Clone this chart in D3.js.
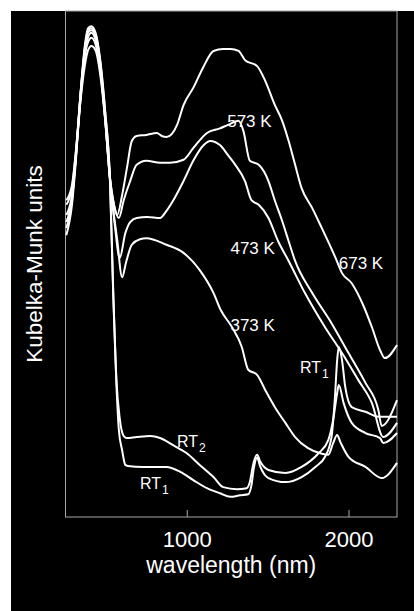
<!DOCTYPE html>
<html>
<head>
<meta charset="utf-8">
<script src="https://cdn.jsdelivr.net/npm/d3@7"></script>
<style>
  body { margin: 0; background: #fff; }
  text { font-family: "Liberation Sans", Arial, sans-serif; fill: #fff; }
</style>
</head>
<body>
<figure id="spectra" style="margin:0"></figure>
<script>
// Kubelka-Munk spectra, [wavelength nm, KM (arbitrary units)]
const rt1 = [[255,55.7],[290,61.7],[315,70.8],[340,82.4],[370,93.3],[390,96.6],[410,97.0],[435,95.8],[465,90.3],[495,80.4],[525,66.6],[545,43.9],[565,26.1],[580,17.2],[600,13.2],[620,10.3],[635,10.1],[730,9.9],[875,9.9],[960,8.9],[1040,7.3],[1125,5.7],[1205,4.7],[1270,4.0],[1330,4.3],[1380,4.5],[1400,6.3],[1415,9.7],[1435,11.7],[1455,9.9],[1505,7.7],[1610,6.9],[1710,7.9],[1795,9.9],[1855,11.9],[1895,15.8],[1915,23.1],[1930,31.0],[1940,33.6],[1960,31.0],[1980,25.7],[2020,21.7],[2105,20.8],[2185,19.8],[2300,19.8]];
const rt2 = [[255,57.1],[290,62.6],[315,71.5],[340,82.4],[370,92.7],[390,96.2],[410,96.6],[435,95.5],[465,89.9],[495,80.0],[525,66.6],[545,44.9],[565,27.1],[585,19.6],[610,16.0],[630,15.6],[690,15.8],[775,16.0],[835,15.6],[915,14.2],[1000,12.6],[1080,10.3],[1165,7.9],[1225,5.9],[1310,5.5],[1370,5.7],[1390,6.9],[1410,10.3],[1435,12.3],[1455,10.9],[1505,9.3],[1610,8.7],[1710,9.9],[1815,12.6],[1875,15.2],[1905,19.2],[1930,24.5],[1940,26.1],[1970,22.5],[2020,18.6],[2105,16.6],[2195,15.6],[2215,14.6],[2300,16.6]];
const k373 = [[255,58.3],[290,63.0],[315,71.5],[340,82.4],[370,92.3],[390,95.8],[410,96.2],[435,95.1],[465,89.3],[495,78.9],[525,66.6],[570,54.7],[600,47.4],[625,50.4],[660,53.8],[710,54.9],[750,55.1],[875,53.8],[980,52.2],[1080,48.8],[1165,44.3],[1210,40.9],[1280,37.5],[1340,33.6],[1380,29.1],[1435,28.1],[1485,25.1],[1545,21.7],[1610,18.6],[1670,15.8],[1750,13.6],[1835,12.5],[1875,12.3],[1905,14.6],[1930,16.2],[1950,14.8],[2000,11.9],[2105,9.9],[2205,7.7],[2300,10.7]];
const k473 = [[255,59.7],[290,63.6],[315,71.5],[340,81.4],[370,91.3],[390,94.9],[410,95.7],[435,94.3],[465,88.7],[495,78.9],[525,67.0],[555,57.7],[585,51.2],[620,56.1],[650,58.3],[690,59.1],[755,59.3],[835,59.1],[870,60.3],[915,62.5],[980,66.4],[1040,70.4],[1105,73.5],[1145,74.3],[1205,73.5],[1255,71.5],[1300,69.6],[1360,66.4],[1400,62.6],[1445,61.7],[1505,59.1],[1565,54.5],[1630,50.6],[1730,44.3],[1855,37.5],[1960,32.4],[2060,27.1],[2145,22.5],[2215,15.8],[2300,18.6]];
const k573 = [[255,61.7],[290,65.0],[315,72.5],[340,82.4],[370,91.3],[390,93.9],[410,94.7],[435,93.5],[465,88.3],[495,78.9],[525,67.0],[550,61.7],[580,59.1],[610,62.6],[650,66.4],[690,69.6],[750,70.4],[835,70.0],[895,70.0],[980,70.6],[1040,72.9],[1125,75.9],[1205,76.8],[1255,77.5],[1320,78.3],[1350,76.3],[1390,70.4],[1445,69.6],[1505,66.4],[1545,62.5],[1590,58.5],[1630,54.5],[1670,50.6],[1775,44.3],[1895,38.3],[2000,32.4],[2105,26.5],[2185,21.1],[2205,18.0],[2300,23.1]];
const k673 = [[255,62.6],[290,65.6],[315,72.5],[340,81.4],[370,89.3],[390,92.3],[410,93.1],[435,92.3],[465,87.4],[495,78.5],[525,67.0],[550,61.7],[570,59.7],[600,63.6],[630,69.0],[660,74.3],[690,75.3],[750,75.5],[815,75.9],[845,75.3],[875,75.1],[940,77.5],[980,81.4],[1040,84.8],[1105,89.1],[1165,92.1],[1225,92.5],[1270,92.5],[1320,92.1],[1360,90.3],[1435,89.1],[1485,86.2],[1545,81.4],[1590,78.3],[1630,74.3],[1670,69.6],[1710,65.0],[1775,61.1],[1835,57.1],[1920,51.2],[1960,48.2],[2020,46.2],[2085,42.3],[2145,37.5],[2195,33.0],[2225,31.4],[2300,34.0]];

const seriesList = [rt1, rt2, k373, k473, k573, k673];
const xTicks = [1000, 2000];

// curve labels: [text, subscript, wavelength, KM]
const labels = [
  ["573 K", "", 1250, 77.0],
  ["473 K", "", 1270, 52.0],
  ["673 K", "", 1940, 49.0],
  ["373 K", "", 1270, 36.8],
  ["RT", "1", 1700, 28.4],
  ["RT", "2", 940, 13.9],
  ["RT", "1", 710, 5.6]
];

const width = 414, height = 611;
const margin = {left: 65.5, right: 17, top: 11, bottom: 94};

const svg = d3.select("#spectra")
  .append("svg")
  .attr("width", width)
  .attr("height", height);

svg.append("rect")
  .attr("x", 11).attr("y", 11)
  .attr("width", width - 11).attr("height", height - 11)
  .attr("fill", "#000");

const x = d3.scaleLinear()
  .domain([250, 2300])
  .range([margin.left, width - margin.right]);

const y = d3.scaleLinear()
  .domain([0, 100])
  .range([height - margin.bottom, margin.top]);

// frame
svg.append("rect")
  .attr("x", x(250)).attr("y", y(100))
  .attr("width", x(2300) - x(250)).attr("height", y(0) - y(100))
  .attr("fill", "none")
  .attr("stroke", "#a8a8a8")
  .attr("stroke-width", 1);

const xAxis = svg.append("g")
  .attr("transform", "translate(0," + y(0) + ")")
  .call(d3.axisBottom(x).tickValues(xTicks).tickSize(-7).tickSizeOuter(0).tickPadding(14).tickFormat(d3.format("d")));
xAxis.select(".domain").remove();
xAxis.selectAll("line").attr("stroke", "#a8a8a8");
xAxis.selectAll("text")
  .attr("fill", "#fff")
  .style("font-size", "22px")
  .style("font-family", "'Liberation Sans', Arial, sans-serif");

const line = d3.line()
  .x(d => x(d[0]))
  .y(d => y(d[1]))
  .curve(d3.curveMonotoneX);

svg.append("g")
  .selectAll("path")
  .data(seriesList)
  .enter()
  .append("path")
  .attr("d", line)
  .attr("fill", "none")
  .attr("stroke", "#fff")
  .attr("stroke-width", 2)
  .attr("stroke-linejoin", "round");

// labels
const lab = svg.append("g");
labels.forEach(l => {
  const t = lab.append("text")
    .attr("x", x(l[2]))
    .attr("y", y(l[3]))
    .style("font-size", l[1] ? "16px" : "17px");
  t.append("tspan").text(l[0]);
  if (l[1]) {
    t.append("tspan")
      .attr("dy", 5)
      .attr("dx", 1)
      .style("font-size", "12px")
      .text(l[1]);
  }
});

// axis titles
svg.append("text")
  .attr("x", (x(250) + x(2300)) / 2)
  .attr("y", 573)
  .style("text-anchor", "middle")
  .style("font-size", "23px")
  .text("wavelength (nm)");

svg.append("text")
  .attr("transform", "translate(42," + ((y(0) + y(100)) / 2) + ") rotate(-90)")
  .style("text-anchor", "middle")
  .style("font-size", "22.5px")
  .text("Kubelka-Munk units");
</script>
</body>
</html>
